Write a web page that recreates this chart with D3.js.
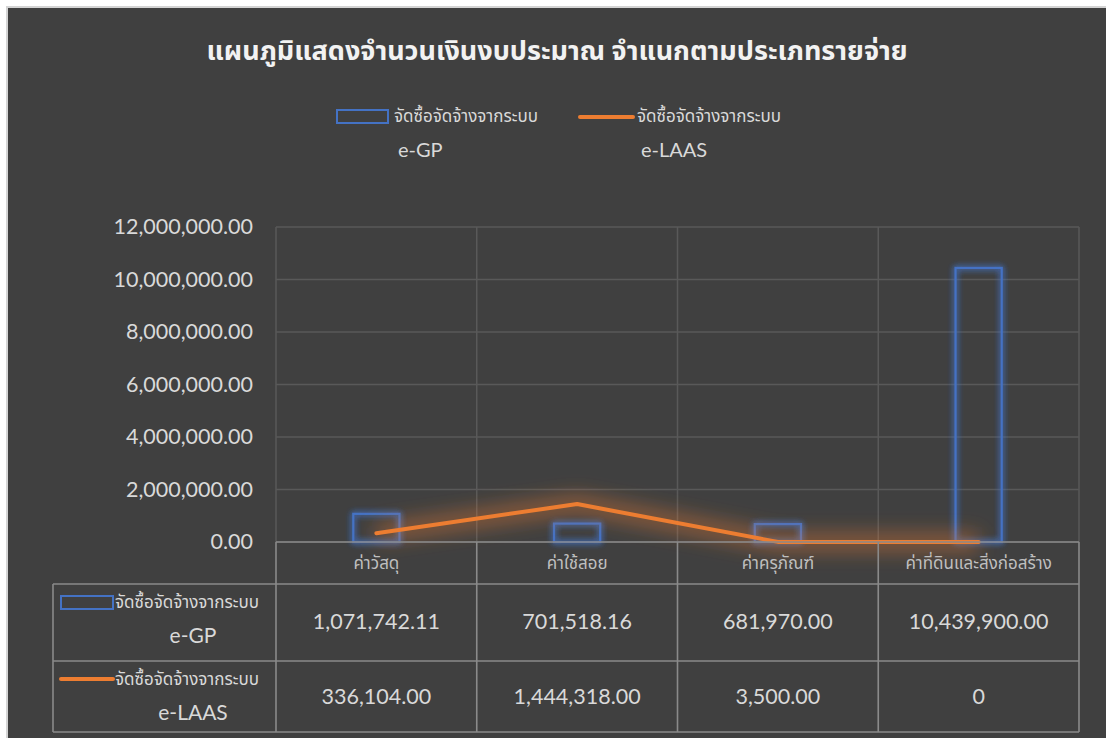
<!DOCTYPE html>
<html>
<head>
<meta charset="utf-8">
<script src="https://cdn.jsdelivr.net/npm/d3@7"></script>
<style>
  body { margin: 0; background: #ffffff; }
  svg { display: block; font-family: Lato, "Noto Sans Thai", "Noto Sans", sans-serif; }
</style>
</head>
<body>
<div id="chart"></div>
<script>
// chart data
const title = "แผนภูมิแสดงจำนวนเงินงบประมาณ จำแนกตามประเภทรายจ่าย";
const categories = ["ค่าวัสดุ", "ค่าใช้สอย", "ค่าครุภัณฑ์", "ค่าที่ดินและสิ่งก่อสร้าง"];
const seriesPrefix = "จัดซื้อจัดจ้างจากระบบ";
const seriesCodes = ["e-GP", "e-LAAS"];
const egpValues = [1071742.11, 701518.16, 681970.00, 10439900.00];
const elaasValues = [336104.00, 1444318.00, 3500.00, 0];
const yTicks = [0, 2000000, 4000000, 6000000, 8000000, 10000000, 12000000];

const width = 1106;
const height = 738;
const plot = {left: 276, right: 1079, top: 227, bottom: 542};
const blue = "#4472C4";
const orange = "#ED7D31";
const textCol = "#d9d9d9";

const svg = d3.select("#chart")
    .append("svg")
    .attr("width", width)
    .attr("height", height);

// glow filters
const defs = svg.append("defs");
const blueGlow = defs.append("filter").attr("id", "blueGlow")
    .attr("x", "-50%").attr("y", "-50%").attr("width", "200%").attr("height", "200%");
blueGlow.append("feGaussianBlur").attr("in", "SourceGraphic").attr("stdDeviation", 3).attr("result", "b");
const bm = blueGlow.append("feMerge");
bm.append("feMergeNode").attr("in", "b");
bm.append("feMergeNode").attr("in", "b");
bm.append("feMergeNode").attr("in", "SourceGraphic");

const orangeGlow = defs.append("filter").attr("id", "orangeGlow")
    .attr("x", "-20%").attr("y", "-100%").attr("width", "140%").attr("height", "300%");
orangeGlow.append("feGaussianBlur").attr("in", "SourceGraphic").attr("stdDeviation", 10);

// background
svg.append("rect")
    .attr("x", 7).attr("y", 7)
    .attr("width", width).attr("height", height)
    .attr("fill", "#404040")
    .attr("stroke", "#d4d4d4")
    .attr("stroke-width", 2);

// title
svg.append("text")
    .attr("x", 557).attr("y", 60)
    .attr("text-anchor", "middle")
    .attr("fill", "#f2f2f2")
    .attr("font-size", 27)
    .attr("font-weight", "bold")
    .text(title);

// scales
const xScale = d3.scaleBand()
    .domain(categories)
    .range([plot.left, plot.right])
    .padding(0);

const yScale = d3.scaleLinear()
    .domain([0, 12000000])
    .range([plot.bottom, plot.top]);

const fmt = d3.format(",.2f");

// horizontal gridlines
svg.append("g")
    .selectAll("line")
    .data(yTicks)
    .enter()
    .append("line")
    .attr("x1", plot.left).attr("x2", plot.right)
    .attr("y1", d => yScale(d)).attr("y2", d => yScale(d))
    .attr("stroke", "#595959")
    .attr("stroke-width", 1.5);

// vertical gridlines at category edges
const edges = categories.map(c => xScale(c)).concat([plot.right]);
svg.append("g")
    .selectAll("line")
    .data(edges)
    .enter()
    .append("line")
    .attr("x1", d => d).attr("x2", d => d)
    .attr("y1", plot.top).attr("y2", plot.bottom)
    .attr("stroke", "#595959")
    .attr("stroke-width", 1.5);

// y axis
const yAxis = d3.axisLeft(yScale)
    .tickValues(yTicks)
    .tickFormat(fmt)
    .tickSize(0)
    .tickPadding(23);

svg.append("g")
    .attr("transform", `translate(${plot.left},0)`)
    .call(yAxis)
    .call(g => g.select(".domain").remove())
    .call(g => g.selectAll("text")
        .attr("fill", textCol)
        .attr("font-size", 21.5)
        .attr("font-family", "Lato, sans-serif"));

// bars (outline only, glowing)
const barW = xScale.bandwidth() * 0.23;
svg.append("g")
    .selectAll("rect")
    .data(egpValues)
    .enter()
    .append("rect")
    .attr("x", (d, i) => xScale(categories[i]) + xScale.bandwidth() / 2 - barW / 2)
    .attr("y", d => yScale(d))
    .attr("width", barW)
    .attr("height", d => plot.bottom - yScale(d))
    .attr("fill", "none")
    .attr("stroke", blue)
    .attr("stroke-width", 2.2)
    .attr("filter", "url(#blueGlow)");

// line with soft glow
const line = d3.line()
    .x((d, i) => xScale(categories[i]) + xScale.bandwidth() / 2)
    .y(d => yScale(d));

svg.append("path")
    .datum(elaasValues)
    .attr("d", line)
    .attr("fill", "none")
    .attr("stroke", orange)
    .attr("stroke-opacity", 0.5)
    .attr("stroke-width", 16)
    .attr("filter", "url(#orangeGlow)");

svg.append("path")
    .datum(elaasValues)
    .attr("d", line)
    .attr("fill", "none")
    .attr("stroke", orange)
    .attr("stroke-width", 4)
    .attr("stroke-linejoin", "round")
    .attr("stroke-linecap", "round");

// legend
const legendX = [337, 580];
const legend = svg.append("g");
legend.append("rect")
    .attr("x", legendX[0]).attr("y", 110)
    .attr("width", 51).attr("height", 13)
    .attr("fill", "none").attr("stroke", blue).attr("stroke-width", 2);
legend.append("line")
    .attr("x1", legendX[1]).attr("x2", legendX[1] + 53)
    .attr("y1", 117).attr("y2", 117)
    .attr("stroke", orange).attr("stroke-width", 4).attr("stroke-linecap", "round");
legend.selectAll(".lt")
    .data(seriesCodes)
    .enter()
    .append("text")
    .attr("class", "lt")
    .attr("x", (d, i) => legendX[i] + 57)
    .attr("y", 122)
    .attr("fill", textCol)
    .attr("font-size", 17)
    .text(seriesPrefix);
legend.selectAll(".lc")
    .data(seriesCodes)
    .enter()
    .append("text")
    .attr("class", "lc")
    .attr("x", (d, i) => legendX[i] + 61)
    .attr("y", 157)
    .attr("fill", textCol)
    .attr("font-size", 20)
    .text(d => d);

// data table
const table = {left: 53, header: 584, row1: 661, bottom: 732};
const tg = svg.append("g")
    .attr("stroke", "#8a8a8a")
    .attr("stroke-width", 1.6);

// horizontal table lines
tg.append("line").attr("x1", plot.left).attr("x2", plot.right).attr("y1", plot.bottom).attr("y2", plot.bottom);
[table.header, table.row1, table.bottom].forEach(y => {
    tg.append("line").attr("x1", table.left).attr("x2", plot.right).attr("y1", y).attr("y2", y);
});
// vertical table lines
tg.append("line").attr("x1", table.left).attr("x2", table.left).attr("y1", table.header).attr("y2", table.bottom);
edges.forEach(x => {
    tg.append("line").attr("x1", x).attr("x2", x).attr("y1", plot.bottom).attr("y2", table.bottom);
});

// category headers
svg.append("g")
    .selectAll("text")
    .data(categories)
    .enter()
    .append("text")
    .attr("x", d => xScale(d) + xScale.bandwidth() / 2)
    .attr("y", 569)
    .attr("text-anchor", "middle")
    .attr("fill", "#bfbfbf")
    .attr("font-size", 17)
    .text(d => d);

// table values
const tableFmt = d => d === 0 ? "0" : fmt(d);
const rowsY = [629, 704];
[egpValues, elaasValues].forEach((vals, r) => {
    svg.append("g")
        .selectAll("text")
        .data(vals)
        .enter()
        .append("text")
        .attr("x", (d, i) => xScale(categories[i]) + xScale.bandwidth() / 2)
        .attr("y", rowsY[r])
        .attr("text-anchor", "middle")
        .attr("fill", textCol)
        .attr("font-size", 21.5)
        .text(tableFmt);
});

// row headers with legend keys
svg.append("rect")
    .attr("x", 61).attr("y", 596)
    .attr("width", 52).attr("height", 13)
    .attr("fill", "none").attr("stroke", blue).attr("stroke-width", 2);
svg.append("line")
    .attr("x1", 61).attr("x2", 113)
    .attr("y1", 679).attr("y2", 679)
    .attr("stroke", orange).attr("stroke-width", 4).attr("stroke-linecap", "round");

const headY = [608, 685];
const codeY = [643, 720];
seriesCodes.forEach((code, r) => {
    svg.append("text")
        .attr("x", 115).attr("y", headY[r])
        .attr("fill", textCol)
        .attr("font-size", 17)
        .text(seriesPrefix);
    svg.append("text")
        .attr("x", 193).attr("y", codeY[r])
        .attr("text-anchor", "middle")
        .attr("fill", textCol)
        .attr("font-size", 21)
        .text(code);
});
</script>
</body>
</html>
